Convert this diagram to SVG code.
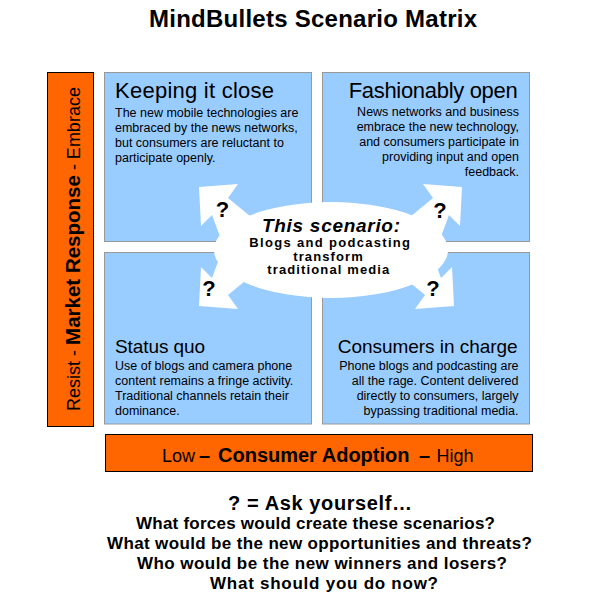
<svg xmlns="http://www.w3.org/2000/svg" width="600" height="606" viewBox="0 0 600 606">
<style>
text{font-family:"Liberation Sans",Arial,sans-serif;fill:#000}
.quad{fill:#99CCFF;stroke:#999999;stroke-width:1}
.axis{fill:#FF6600;stroke:#000;stroke-width:1}
.qt{font-size:22px}
.qt2{font-size:19px}
.body{font-size:12.5px}
.b{font-weight:bold}
.q{font-size:22px;font-weight:bold;text-anchor:middle}
.arrow{fill:#fff;stroke:none}
.mid{text-anchor:middle}
.end{text-anchor:end}
.ask{font-weight:bold;font-size:17px;text-anchor:middle}
.ask1{font-weight:bold;font-size:20px;text-anchor:middle}
.sc{font-weight:bold;font-size:13px;text-anchor:middle}
</style>
<defs>
<polygon id="arr" class="arrow" points="199,187 238,184 228,198 262,226 244,244 222,242 212,215 201,226"/>
</defs>
<rect width="600" height="606" fill="#fff"/>
<g id="title"><text x="313" y="27" class="mid b" font-size="24" textLength="328" lengthAdjust="spacing">MindBullets Scenario Matrix</text></g>
<g id="axis-market-response">
<rect class="axis" x="47.5" y="72.5" width="46" height="354"/>
<text transform="translate(80,249) rotate(-90)" class="mid" font-size="18">Resist - <tspan class="b" font-size="20.5">Market Response</tspan> - Embrace</text>
</g>
<g id="axis-consumer-adoption">
<rect class="axis" x="105.5" y="434.5" width="427" height="37"/>
<text y="461.5" font-size="18"><tspan x="162">Low </tspan><tspan x="199" class="b" font-size="20">– </tspan><tspan x="218" class="b" font-size="20">Consumer Adoption </tspan><tspan x="419" class="b" font-size="20">– </tspan><tspan x="436.5">High</tspan></text>
</g>
<g id="keeping-it-close">
<rect class="quad" x="104.5" y="72.5" width="207" height="169"/>
<text x="115" y="98.3" class="qt" textLength="159" lengthAdjust="spacing">Keeping it close</text>
<text class="body"><tspan x="115" y="116.7">The new mobile technologies are</tspan><tspan x="115" y="131.9">embraced by the news networks,</tspan><tspan x="115" y="147.1">but consumers are reluctant to</tspan><tspan x="115" y="162.3">participate openly.</tspan></text>
</g>
<g id="fashionably-open">
<rect class="quad" x="322.5" y="72.5" width="207" height="169"/>
<text x="517.7" y="98.3" class="qt end" textLength="169" lengthAdjust="spacing">Fashionably open</text>
<text class="body end"><tspan x="519" y="115.5">News networks and business</tspan><tspan x="519" y="130.7">embrace the new technology,</tspan><tspan x="519" y="145.9">and consumers participate in</tspan><tspan x="519" y="161.1">providing input and open</tspan><tspan x="519" y="176.3">feedback.</tspan></text>
</g>
<g id="status-quo">
<rect class="quad" x="104.5" y="252.5" width="207" height="171.5"/>
<text x="115" y="353.3" class="qt2" textLength="90" lengthAdjust="spacing">Status quo</text>
<text class="body"><tspan x="115" y="369.5">Use of blogs and camera phone</tspan><tspan x="115" y="384.8">content remains a fringe activity.</tspan><tspan x="115" y="400.1">Traditional channels retain their</tspan><tspan x="115" y="415.4">dominance.</tspan></text>
</g>
<g id="consumers-in-charge">
<rect class="quad" x="322.5" y="252.5" width="207" height="171.5"/>
<text x="517.7" y="353.3" class="qt2 end" textLength="180" lengthAdjust="spacing">Consumers in charge</text>
<text class="body end"><tspan x="518.5" y="369.5">Phone blogs and podcasting are</tspan><tspan x="518.5" y="384.8">all the rage. Content delivered</tspan><tspan x="518.5" y="400.1">directly to consumers, largely</tspan><tspan x="518.5" y="415.4">bypassing traditional media.</tspan></text>
</g>
<g id="connectors">
<use href="#arr"/>
<use href="#arr" transform="translate(661,0) scale(-1,1)"/>
<use href="#arr" transform="translate(0,493) scale(1,-1)"/>
<use href="#arr" transform="translate(653,493) scale(-1,-1)"/>
<text x="222.5" y="216.5" class="q">?</text>
<text x="440" y="218" class="q">?</text>
<text x="209" y="296" class="q">?</text>
<text x="433" y="296" class="q">?</text>
</g>
<g id="this-scenario">
<ellipse cx="331" cy="250" rx="117" ry="48" fill="#fff"/>
<text x="331" y="231.7" class="mid b" font-size="19" font-style="italic" textLength="138" lengthAdjust="spacing">This scenario:</text>
<text x="329.7" y="246.5" class="sc" textLength="160.7" lengthAdjust="spacing">Blogs and podcasting</text>
<text x="328" y="260.5" class="sc" textLength="69.4" lengthAdjust="spacing">transform</text>
<text x="328.3" y="274" class="sc" textLength="122" lengthAdjust="spacing">traditional media</text>
</g>
<g id="ask-yourself">
<text x="320" y="510" class="ask1" textLength="184" lengthAdjust="spacing">? = Ask yourself…</text>
<text x="315.5" y="528.5" class="ask" textLength="359" lengthAdjust="spacing">What forces would create these scenarios?</text>
<text x="319.5" y="549" class="ask" textLength="425" lengthAdjust="spacing">What would be the new opportunities and threats?</text>
<text x="322" y="569" class="ask" textLength="370" lengthAdjust="spacing">Who would be the new winners and losers?</text>
<text x="324" y="589" class="ask" textLength="228" lengthAdjust="spacing">What should you do now?</text>
</g>
</svg>
